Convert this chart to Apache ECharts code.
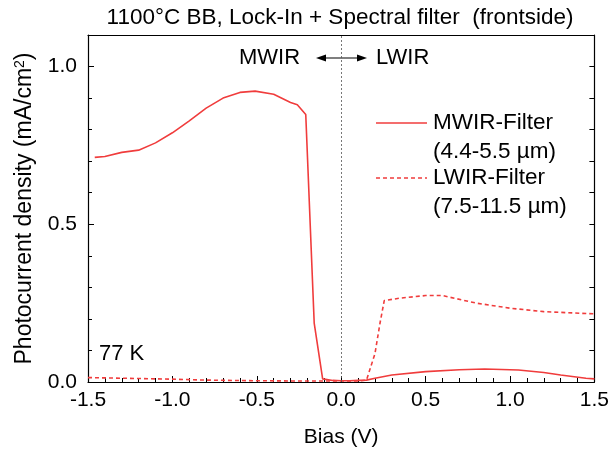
<!DOCTYPE html>
<html>
<head>
<meta charset="utf-8">
<script src="https://cdn.jsdelivr.net/npm/echarts@6/dist/echarts.min.js"></script>
<style>
  html, body { margin: 0; padding: 0; background: #fff; }
  #chart { width: 612px; height: 453px; }
</style>
</head>
<body>
<div id="chart"></div>
<script>
// MWIR filter (solid) - bias in V, photocurrent in mA/cm2
const mwirBias = [-1.46, -1.4, -1.3, -1.2, -1.1, -1.0, -0.9, -0.8, -0.7, -0.6, -0.51, -0.4, -0.3, -0.26, -0.21, -0.16, -0.11, -0.05, 0.0, 0.05, 0.1, 0.15, 0.2, 0.3, 0.5, 0.7, 0.85, 1.05, 1.2, 1.3, 1.45, 1.5];
const mwirValues = [0.712, 0.715, 0.728, 0.735, 0.758, 0.79, 0.828, 0.868, 0.9, 0.918, 0.922, 0.912, 0.886, 0.879, 0.848, 0.187, 0.01, 0.005, 0.004, 0.004, 0.005, 0.006, 0.012, 0.022, 0.033, 0.039, 0.041, 0.038, 0.03, 0.022, 0.012, 0.01];

// LWIR filter (dashed)
const lwirBias = [-1.5, -1.3, -1.0, -0.8, -0.5, -0.2, 0.0, 0.1, 0.15, 0.2, 0.23, 0.255, 0.35, 0.5, 0.6, 0.8, 1.0, 1.2, 1.5];
const lwirValues = [0.014, 0.012, 0.009, 0.006, 0.004, 0.003, 0.003, 0.003, 0.006, 0.09, 0.187, 0.258, 0.266, 0.274, 0.274, 0.25, 0.234, 0.223, 0.216];

const red = '#f03c3c';
const font = 'Liberation Sans, Arial, sans-serif';
const fs = 21;
const fsText = 22.5;

const chart = echarts.init(document.getElementById('chart'));

const pair = (xs, ys) => xs.map((x, i) => [x, ys[i]]);
const txt = (x, y, text, align, size) => ({
  type: 'text', x: x, y: y,
  style: { text: text, fontSize: size || fsText, fill: '#000', fontFamily: font, align: align || 'left', verticalAlign: 'middle' }
});

chart.setOption({
  animation: false,
  textStyle: { fontFamily: font },
  grid: { left: 88, right: 17, top: 35, bottom: 71 },
  xAxis: [{
    type: 'value', min: -1.5, max: 1.5, interval: 0.5,
    position: 'bottom',
    axisLine: { onZero: false, lineStyle: { color: '#000', width: 1.2 } },
    axisTick: { inside: true, length: 6, lineStyle: { color: '#000' } },
    minorTick: { show: true, splitNumber: 5, length: 4, lineStyle: { color: '#000' } },
    splitLine: { show: false },
    axisLabel: { color: '#000', fontSize: fs, margin: 8, formatter: v => v.toFixed(1) },
    name: 'Bias (V)', nameLocation: 'middle', nameGap: 45,
    nameTextStyle: { color: '#000', fontSize: fs }
  }, {
    type: 'value', min: -1.5, max: 1.5, position: 'top',
    axisLine: { onZero: false, lineStyle: { color: '#000', width: 1.2 } },
    axisTick: { show: false }, axisLabel: { show: false }, splitLine: { show: false }
  }],
  yAxis: [{
    type: 'value', min: 0, max: 1.1, interval: 0.5,
    axisLine: { show: true, onZero: false, lineStyle: { color: '#000', width: 1.2 } },
    axisTick: { inside: true, length: 6, lineStyle: { color: '#000' } },
    minorTick: { show: true, splitNumber: 5, length: 4, lineStyle: { color: '#000' } },
    splitLine: { show: false },
    axisLabel: { color: '#000', fontSize: fs, margin: 11, showMaxLabel: false, formatter: v => v.toFixed(1) },
    name: 'Photocurrent density (mA/cm{sup|2})', nameLocation: 'middle', nameGap: 51,
    nameTextStyle: {
      color: '#000', fontSize: 23,
      rich: { sup: { fontSize: 14, verticalAlign: 'top', padding: [0, 0, 10, 0], color: '#000' } }
    }
  }, {
    type: 'value', min: 0, max: 1.1, interval: 0.5, position: 'right',
    axisLine: { show: true, onZero: false, lineStyle: { color: '#000', width: 1.2 } },
    axisTick: { inside: true, length: 5, lineStyle: { color: '#000' } },
    minorTick: { show: true, splitNumber: 5, length: 5, lineStyle: { color: '#000' } },
    splitLine: { show: false },
    axisLabel: { show: false }
  }],
  series: [{
    name: 'MWIR-Filter', type: 'line', showSymbol: false,
    data: pair(mwirBias, mwirValues),
    lineStyle: { color: red, width: 1.6 },
    markLine: {
      silent: true, symbol: 'none', label: { show: false },
      lineStyle: { color: '#555', type: [2, 2], width: 0.8 },
      data: [{ xAxis: 0 }]
    }
  }, {
    name: 'LWIR-Filter', type: 'line', showSymbol: false,
    data: pair(lwirBias, lwirValues),
    lineStyle: { color: red, width: 1.6, type: [4, 3] }
  }],
  graphic: [
    txt(340, 18, '1100°C BB, Lock-In + Spectral filter  (frontside)', 'center'),
    txt(239, 58, 'MWIR', 'left', 22),
    txt(376, 58, 'LWIR', 'left', 22),
    { type: 'line', shape: { x1: 322, y1: 58, x2: 361, y2: 58 }, style: { stroke: '#000', lineWidth: 1.2 } },
    { type: 'polygon', shape: { points: [[316, 58], [326, 54.5], [326, 61.5]] }, style: { fill: '#000' } },
    { type: 'polygon', shape: { points: [[367, 58], [357, 54.5], [357, 61.5]] }, style: { fill: '#000' } },
    txt(99, 354, '77 K', 'left', 22),
    { type: 'line', shape: { x1: 376, y1: 123, x2: 427, y2: 123 }, style: { stroke: red, lineWidth: 1.6 } },
    { type: 'line', shape: { x1: 376, y1: 178, x2: 427, y2: 178 }, style: { stroke: red, lineWidth: 1.6, lineDash: [4, 3] } },
    txt(433, 123, 'MWIR-Filter'),
    txt(433, 152, '(4.4-5.5 µm)'),
    txt(433, 178, 'LWIR-Filter'),
    txt(433, 207, '(7.5-11.5 µm)')
  ]
});
</script>
</body>
</html>
